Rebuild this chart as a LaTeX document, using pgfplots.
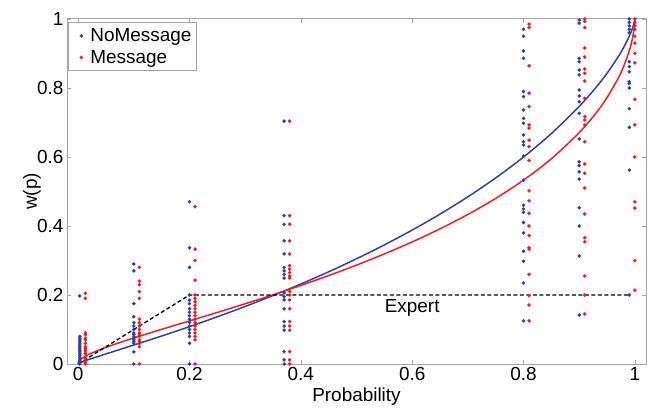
\documentclass[border=0pt]{standalone}
\usepackage{fontspec}
\setmainfont{Liberation Sans}
\usepackage{pgfplots}
\pgfplotsset{compat=1.18}
\usetikzlibrary{calc}

\definecolor{nmblue}{RGB}{45,65,165}
\definecolor{mred}{RGB}{232,30,40}
\definecolor{axgray}{RGB}{165,165,165}

\begin{document}
\begin{tikzpicture}
\begin{axis}[
  scale only axis, width=579bp, height=345bp,
  xmin=-0.02, xmax=1.02, ymin=0, ymax=1,
  xtick={0,0.2,0.4,0.6,0.8,1}, ytick={0,0.2,0.4,0.6,0.8,1},
  axis line style={axgray, line width=1pt},
  tick style={axgray, line width=0.6pt}, major tick length=4bp,
  tick align=inside,
  font=\fontsize{19}{22}\selectfont,
  /pgf/number format/assume math mode=true,
  ticklabel style={font=\fontsize{19}{22}\selectfont},
  every axis x label/.style={at={(rel axis cs:0.5,0)}, yshift=-33bp, anchor=center},
  every axis y label/.style={at={(rel axis cs:0,0.5)}, xshift=-35bp, rotate=90, anchor=center},
  xlabel={Probability}, ylabel={w(p)},
  legend style={at={(0.002,0.99)}, anchor=north west, draw=axgray, fill=white,
    font=\fontsize{19}{22}\selectfont, inner xsep=3bp, inner ysep=4bp, row sep=3bp},
  legend cell align=left,
  legend image code/.code={\path[draw=none, fill=none] (0cm,0cm) -- (0.6cm,0cm);
    \draw[#1] plot coordinates {(0.35cm,0cm)};},
]
% NoMessage responses
\addplot[only marks, mark=*, mark size=1.6pt, nmblue] coordinates {
 (0.003,0.197)(0.003,0.08)(0.003,0.075)(0.003,0.07)(0.003,0.065)(0.003,0.06)(0.003,0.055)
 (0.003,0.05)(0.003,0.045)(0.003,0.04)(0.003,0.035)(0.003,0.03)(0.003,0.025)(0.003,0.02)
 (0.003,0.015)(0.003,0.01)(0.003,0.005)(0.003,0.0)
 (0.1,0.29)(0.1,0.27)(0.1,0.175)(0.1,0.137)(0.1,0.12)(0.1,0.11)(0.1,0.10)(0.1,0.09)
 (0.1,0.085)(0.1,0.08)(0.1,0.075)(0.1,0.07)(0.1,0.065)(0.1,0.06)(0.1,0.035)(0.1,0.0)
 (0.2,0.47)(0.2,0.337)(0.2,0.28)(0.2,0.2)(0.2,0.185)(0.2,0.175)(0.2,0.16)(0.2,0.15)
 (0.2,0.14)(0.2,0.13)(0.2,0.12)(0.2,0.11)(0.2,0.10)(0.2,0.09)(0.2,0.08)(0.2,0.06)(0.2,0.0)
 (0.37,0.704)(0.37,0.43)(0.37,0.405)(0.37,0.357)(0.37,0.319)(0.37,0.28)(0.37,0.27)
 (0.37,0.26)(0.37,0.249)(0.37,0.206)(0.37,0.195)(0.37,0.186)(0.37,0.16)(0.37,0.123)
 (0.37,0.11)(0.37,0.098)(0.37,0.036)(0.37,0.012)(0.37,0.0)
 (0.8,0.97)(0.8,0.95)(0.8,0.907)(0.8,0.886)(0.8,0.79)(0.8,0.775)(0.8,0.736)(0.8,0.712)
 (0.8,0.698)(0.8,0.664)(0.8,0.644)(0.8,0.635)(0.8,0.603)(0.8,0.533)(0.8,0.46)(0.8,0.449)
 (0.8,0.44)(0.8,0.41)(0.8,0.38)(0.8,0.327)(0.8,0.298)(0.8,0.235)(0.8,0.125)
 (0.9,0.997)(0.9,0.988)(0.9,0.886)(0.9,0.876)(0.9,0.852)(0.9,0.838)(0.9,0.794)(0.9,0.777)
 (0.9,0.76)(0.9,0.727)(0.9,0.652)(0.9,0.586)(0.9,0.575)(0.9,0.557)(0.9,0.536)(0.9,0.453)
 (0.9,0.4)(0.9,0.313)(0.9,0.142)
 (0.99,1.0)(0.99,0.99)(0.99,0.98)(0.99,0.97)(0.99,0.96)(0.99,0.876)(0.99,0.862)(0.99,0.847)
 (0.99,0.818)(0.99,0.813)(0.99,0.8)(0.99,0.74)(0.99,0.686)(0.99,0.562)(0.99,0.2)
};
\addlegendentry{NoMessage}
% Message responses
\addplot[only marks, mark=*, mark size=1.6pt, mred] coordinates {
 (0.013,0.205)(0.013,0.19)(0.013,0.09)(0.013,0.085)(0.013,0.075)(0.013,0.07)(0.013,0.06)
 (0.013,0.05)(0.013,0.045)(0.013,0.04)(0.013,0.035)(0.013,0.03)(0.013,0.02)(0.013,0.015)
 (0.013,0.01)(0.013,0.005)(0.013,0.0)
 (0.11,0.28)(0.11,0.24)(0.11,0.23)(0.11,0.21)(0.11,0.19)(0.11,0.13)(0.11,0.12)(0.11,0.11)
 (0.11,0.10)(0.11,0.09)(0.11,0.085)(0.11,0.08)(0.11,0.07)(0.11,0.065)(0.11,0.06)(0.11,0.05)(0.11,0.0)
 (0.21,0.456)(0.21,0.333)(0.21,0.30)(0.21,0.243)(0.21,0.2)(0.21,0.19)(0.21,0.18)(0.21,0.17)
 (0.21,0.16)(0.21,0.15)(0.21,0.14)(0.21,0.13)(0.21,0.12)(0.21,0.11)(0.21,0.10)(0.21,0.09)
 (0.21,0.08)(0.21,0.07)(0.21,0.0)
 (0.38,0.704)(0.38,0.43)(0.38,0.405)(0.38,0.357)(0.38,0.319)(0.38,0.285)(0.38,0.275)
 (0.38,0.265)(0.38,0.255)(0.38,0.249)(0.38,0.21)(0.38,0.2)(0.38,0.186)(0.38,0.16)
 (0.38,0.123)(0.38,0.11)(0.38,0.098)(0.38,0.036)(0.38,0.012)(0.38,0.0)
 (0.81,0.985)(0.81,0.975)(0.81,0.864)(0.81,0.785)(0.81,0.746)(0.81,0.693)(0.81,0.684)
 (0.81,0.649)(0.81,0.63)(0.81,0.59)(0.81,0.502)(0.81,0.473)(0.81,0.437)(0.81,0.4)
 (0.81,0.372)(0.81,0.337)(0.81,0.333)(0.81,0.26)(0.81,0.198)(0.81,0.171)(0.81,0.125)
 (0.91,1.0)(0.91,0.993)(0.91,0.975)(0.91,0.916)(0.91,0.89)(0.91,0.855)(0.91,0.843)(0.91,0.82)
 (0.91,0.77)(0.91,0.717)(0.91,0.707)(0.91,0.693)(0.91,0.644)(0.91,0.58)(0.91,0.553)(0.91,0.51)
 (0.91,0.435)(0.91,0.366)(0.91,0.354)(0.91,0.255)(0.91,0.2)(0.91,0.145)
 (1.0,1.0)(1.0,0.99)(1.0,0.98)(1.0,0.97)(1.0,0.95)(1.0,0.93)(1.0,0.9)(1.0,0.873)
 (1.0,0.767)(1.0,0.693)(1.0,0.6)(1.0,0.47)(1.0,0.452)(1.0,0.3)(1.0,0.214)
};
\addlegendentry{Message}
% fitted weighting curves
\addplot[forget plot, nmblue, line width=1.5pt, smooth] coordinates {
 (0,0)(0.001,0.0014)(0.005,0.0046)(0.01,0.0078)(0.02,0.0135)(0.05,0.0293)(0.1,0.055)
 (0.15,0.0811)(0.2,0.1083)(0.25,0.1368)(0.3,0.1668)(0.35,0.1984)(0.4,0.2318)(0.45,0.2672)
 (0.5,0.305)(0.55,0.3451)(0.6,0.3882)(0.65,0.4344)(0.7,0.4846)(0.75,0.5394)(0.8,0.5998)
 (0.85,0.6679)(0.9,0.7466)(0.93,0.8013)(0.95,0.8427)(0.97,0.8903)(0.98,0.918)(0.99,0.9504)
 (0.995,0.9701)(0.999,0.9909)(1,1)
};
\addplot[forget plot, mred, line width=1.5pt, smooth] coordinates {
 (0,0)(0.001,0.0066)(0.005,0.0139)(0.01,0.0196)(0.02,0.0284)(0.05,0.0483)(0.1,0.0755)
 (0.15,0.1004)(0.2,0.1248)(0.25,0.1494)(0.3,0.1746)(0.35,0.2006)(0.4,0.2277)(0.45,0.2563)
 (0.5,0.2865)(0.55,0.319)(0.6,0.3538)(0.65,0.3917)(0.7,0.4334)(0.75,0.4799)(0.8,0.5329)
 (0.85,0.5948)(0.9,0.6705)(0.93,0.7269)(0.95,0.7721)(0.97,0.8279)(0.98,0.8631)(0.99,0.908)
 (0.995,0.9386)(0.999,0.9764)(1,1)
};
% expert benchmark
\addplot[forget plot, black, line width=1.3pt, dash pattern=on 4bp off 2.5bp] coordinates {
 (0,0)(0.2,0.2)(0.99,0.2)
};
\node[font=\fontsize{19}{22}\selectfont] at (axis cs:0.6,0.162) {Expert};
\coordinate (bl) at (rel axis cs:0,0);
\coordinate (tr) at (rel axis cs:1,1);
\end{axis}
\pgfresetboundingbox
\path ($(bl)+(-67bp,-44bp)$) rectangle ($(tr)+(5bp,19bp)$);
\end{tikzpicture}
\end{document}
